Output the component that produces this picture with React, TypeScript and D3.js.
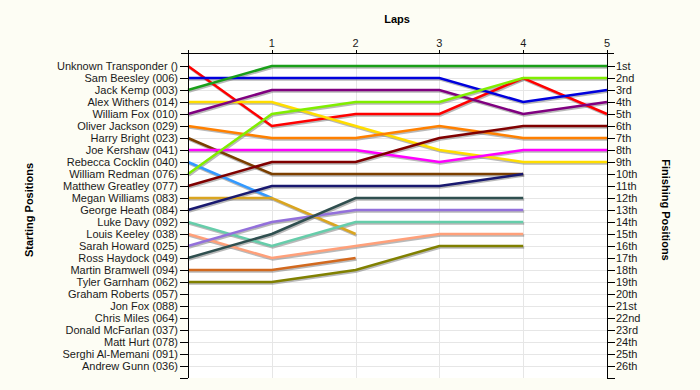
import { useEffect, useRef } from 'react';
import * as d3 from 'd3';

// Riders in starting order (row 1 = pole)
const riders = [
  "Unknown Transponder ()",
  "Sam Beesley (006)",
  "Jack Kemp (003)",
  "Alex Withers (014)",
  "William Fox (010)",
  "Oliver Jackson (029)",
  "Harry Bright (023)",
  "Joe Kershaw (041)",
  "Rebecca Cocklin (040)",
  "William Redman (076)",
  "Matthew Greatley (077)",
  "Megan Williams (083)",
  "George Heath (084)",
  "Luke Davy (092)",
  "Louis Keeley (038)",
  "Sarah Howard (025)",
  "Ross Haydock (049)",
  "Martin Bramwell (094)",
  "Tyler Garnham (062)",
  "Graham Roberts (057)",
  "Jon Fox (088)",
  "Chris Miles (064)",
  "Donald McFarlan (037)",
  "Matt Hurt (078)",
  "Serghi Al-Memani (091)",
  "Andrew Gunn (036)",
];

// Position after each lap (index 0 = start); riders without laps are omitted
const positions: number[][] = [
  [1, 6, 5, 5, 2, 5],
  [2, 2, 2, 2, 4, 3],
  [3, 1, 1, 1, 1, 1],
  [4, 4, 6, 8, 9, 9],
  [5, 3, 3, 3, 5, 4],
  [6, 7, 7, 6, 7, 7],
  [7, 10, 10, 10, 10],
  [8, 8, 8, 9, 8, 8],
  [9, 12],
  [10, 5, 4, 4, 2, 2],
  [11, 9, 9, 7, 6, 6],
  [12, 12, 15],
  [13, 11, 11, 11, 10],
  [14, 16, 14, 14, 14],
  [15, 17, 16, 15, 15],
  [16, 14, 13, 13, 13],
  [17, 15, 12, 12, 12],
  [18, 18, 17],
  [19, 19, 18, 16, 16],
];

const colors = [
  "#ff0000", "#0000dd", "#1a9f1a", "#ffdd00", "#800080", "#ff8000",
  "#7b3f00", "#ff00ff", "#3399ff", "#80ee00", "#800000", "#daa520",
  "#191970", "#66cdaa", "#ffa07a", "#9370db", "#2f4f4f", "#d2691e",
  "#808000",
];

const lapTicks = [1, 2, 3, 4, 5];

const finishLabels = [
  "1st", "2nd", "3rd", "4th", "5th", "6th", "7th", "8th", "9th", "10th",
  "11th", "12th", "13th", "14th", "15th", "16th", "17th", "18th", "19th", "20th",
  "21st", "22nd", "23rd", "24th", "25th", "26th",
];

export default function App() {
  const svgRef = useRef<SVGSVGElement>(null);

  useEffect(() => {
    if (!svgRef.current) return;
    const svg = d3.select(svgRef.current);
    svg.selectAll("*").remove();

    const width = 700;
    const height = 390;
    const font = "'Liberation Sans', Arial, sans-serif";

    const x = d3.scaleLinear().domain([0, 5]).range([188, 607]);
    const y = d3.scaleLinear().domain([0, 27]).range([54, 378]);
    const top = 53;
    const bottom = y(27);

    svg.append("rect")
      .attr("width", width)
      .attr("height", height)
      .attr("fill", "#fdfdf4");

    svg.append("rect")
      .attr("x", x(0))
      .attr("y", top)
      .attr("width", x(5) - x(0))
      .attr("height", bottom - top)
      .attr("fill", "#ffffff");

    // Grid
    const rows = d3.range(1, riders.length + 1);
    svg.append("g").selectAll("line")
      .data(rows)
      .enter()
      .append("line")
      .attr("x1", x(0))
      .attr("x2", x(5))
      .attr("y1", d => y(d) + 0.5)
      .attr("y2", d => y(d) + 0.5)
      .attr("stroke", "#e6e6e6");

    svg.append("g").selectAll("line")
      .data(lapTicks.slice(0, -1))
      .enter()
      .append("line")
      .attr("x1", d => Math.round(x(d)) + 0.5)
      .attr("x2", d => Math.round(x(d)) + 0.5)
      .attr("y1", top)
      .attr("y2", bottom)
      .attr("stroke", "#e6e6e6");

    // Lines (with a soft drop shadow underneath)
    const line = d3.line<number>()
      .x((_, i) => x(i))
      .y(d => y(d));

    const lines = svg.append("g");
    positions.forEach((p) => {
      lines.append("path")
        .datum(p)
        .attr("d", line)
        .attr("transform", "translate(1,1.5)")
        .attr("fill", "none")
        .attr("stroke", "#808080")
        .attr("stroke-opacity", 0.55)
        .attr("stroke-width", 2.5);
    });
    positions.forEach((p, i) => {
      lines.append("path")
        .datum(p)
        .attr("d", line)
        .attr("fill", "none")
        .attr("stroke", colors[i])
        .attr("stroke-width", 2.5);
    });

    // Left axis
    const left = svg.append("g").attr("font-family", font).attr("font-size", 11);
    left.append("line")
      .attr("x1", x(0) + 0.5).attr("x2", x(0) + 0.5)
      .attr("y1", top - 3).attr("y2", bottom)
      .attr("stroke", "#000");
    left.selectAll(".tk")
      .data(d3.range(1, 28))
      .enter()
      .append("line")
      .attr("x1", x(0) - 8)
      .attr("x2", x(0))
      .attr("y1", d => y(d) + 0.5)
      .attr("y2", d => y(d) + 0.5)
      .attr("stroke", "#000");
    left.selectAll("text")
      .data(riders)
      .enter()
      .append("text")
      .attr("x", x(0) - 10)
      .attr("y", (_, i) => y(i + 1) + 4)
      .attr("text-anchor", "end")
      .attr("fill", "#1a1a1a")
      .text(d => d);

    // Right axis
    const right = svg.append("g").attr("font-family", font).attr("font-size", 11);
    right.append("line")
      .attr("x1", x(5) + 0.5).attr("x2", x(5) + 0.5)
      .attr("y1", top - 3).attr("y2", bottom)
      .attr("stroke", "#000");
    right.selectAll(".tk")
      .data(d3.range(1, 28))
      .enter()
      .append("line")
      .attr("x1", x(5))
      .attr("x2", x(5) + 8)
      .attr("y1", d => y(d) + 0.5)
      .attr("y2", d => y(d) + 0.5)
      .attr("stroke", "#000");
    right.selectAll("text")
      .data(finishLabels)
      .enter()
      .append("text")
      .attr("x", x(5) + 9)
      .attr("y", (_, i) => y(i + 1) + 4)
      .attr("fill", "#1a1a1a")
      .text(d => d);

    // Top axis
    const topAxis = svg.append("g").attr("font-family", font).attr("font-size", 11);
    topAxis.append("line")
      .attr("x1", x(0) - 7).attr("x2", x(5) + 7)
      .attr("y1", top + 0.5).attr("y2", top + 0.5)
      .attr("stroke", "#000");
    topAxis.selectAll(".tk")
      .data([0, ...lapTicks])
      .enter()
      .append("line")
      .attr("x1", d => Math.round(x(d)) + 0.5)
      .attr("x2", d => Math.round(x(d)) + 0.5)
      .attr("y1", top - 3)
      .attr("y2", top)
      .attr("stroke", "#000");
    topAxis.selectAll("text")
      .data(lapTicks)
      .enter()
      .append("text")
      .attr("x", d => x(d))
      .attr("y", 47)
      .attr("text-anchor", "middle")
      .attr("fill", "#1a1a1a")
      .text(d => d);

    // Titles
    const titles = svg.append("g")
      .attr("font-family", font)
      .attr("font-size", 11)
      .attr("font-weight", "bold")
      .attr("text-anchor", "middle");
    titles.append("text")
      .attr("x", 397)
      .attr("y", 23)
      .text("Laps");
    titles.append("text")
      .attr("transform", "translate(33,210) rotate(-90)")
      .text("Starting Positions");
    titles.append("text")
      .attr("transform", "translate(662,210) rotate(90)")
      .text("Finishing Positions");
  }, []);

  return (
    <svg
      ref={svgRef}
      width={700}
      height={390}
      style={{ position: 'absolute', left: 0, top: 0, display: 'block' }}
    />
  );
}
